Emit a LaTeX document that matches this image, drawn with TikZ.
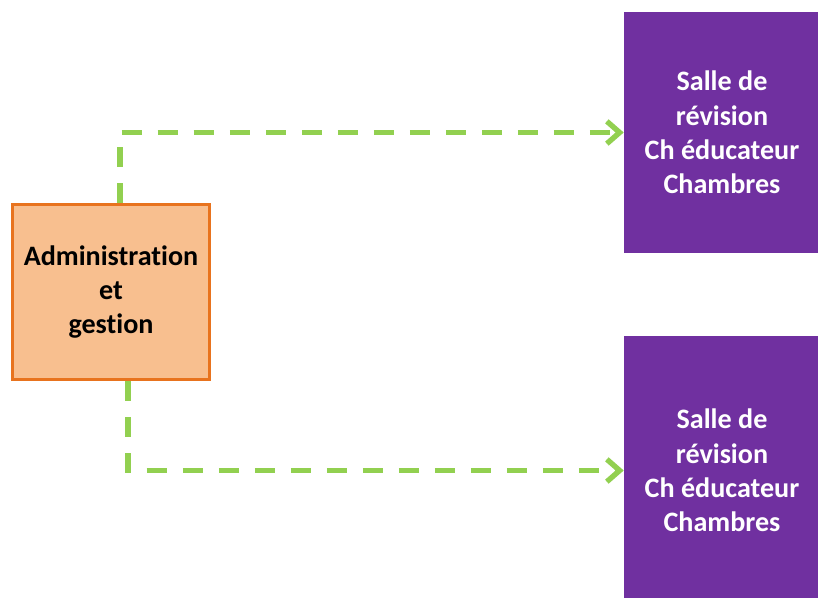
\documentclass[tikz,border=0pt]{standalone}
\usepackage{fontspec}
\setmainfont[Ligatures=NoCommon]{Carlito}
\usetikzlibrary{arrows.meta,positioning}

\definecolor{adminfill}{HTML}{F8BF8F}
\definecolor{adminedge}{HTML}{E8731E}
\definecolor{salleviolet}{HTML}{7030A0}
\definecolor{liengreen}{HTML}{92D050}

\begin{document}
\begin{tikzpicture}[x=0.025cm,y=-0.025cm,
  admin/.style={draw=adminedge, line width=2.4pt, fill=adminfill,
    minimum width=4.925cm, minimum height=4.375cm, inner sep=0pt,
    align=center, font=\bfseries\fontsize{20}{24.5}\selectfont},
  salle/.style={fill=salleviolet, text=white, minimum width=4.9cm,
    inner sep=0pt, align=center, font=\bfseries\fontsize{20}{24.5}\selectfont},
  lien/.style={draw=liengreen, line width=3.8pt,
    dash pattern=on 0.5cm off 0.4cm,
    -{Straight Barb[length=3.2mm,width=5.6mm]}}]

\useasboundingbox (0,0) rectangle (818,598);

\node[admin] (admin) at (111,292) {Administration\\et\\gestion};
\node[salle, minimum height=6.025cm] (salleA) at (722,132.5)
  {Salle de\\révision\\Ch éducateur\\Chambres};
\node[salle, minimum height=6.725cm] (salleB) at (722,470.5)
  {Salle de\\révision\\Ch éducateur\\Chambres};

\draw[lien] ([xshift=0.225cm]admin.north) |- (salleA.west);
\draw[lien] ([xshift=0.425cm]admin.south) |- (salleB.west);

\end{tikzpicture}
\end{document}
